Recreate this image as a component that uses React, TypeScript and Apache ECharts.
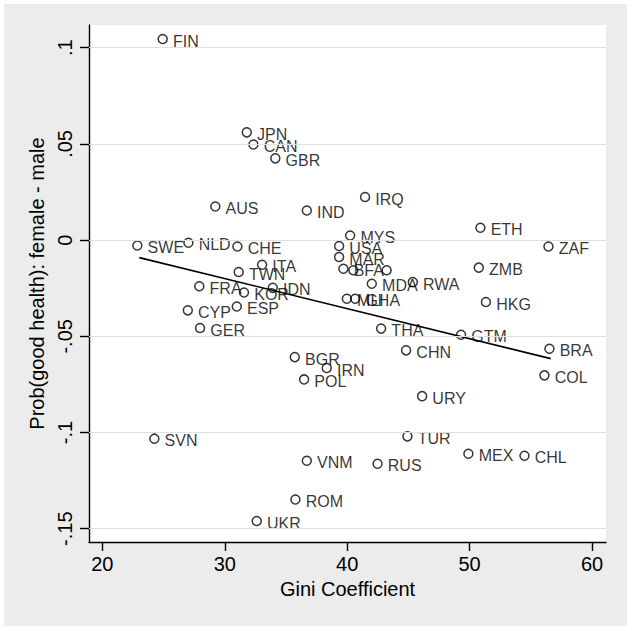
import React, { useEffect, useRef } from "react";
import * as echarts from "echarts";

// Country codes (empty string = unlabeled point)
const countries = [
  "FIN", "JPN", "CAN", "GBR", "AUS", "IND", "IRQ", "ETH", "ZAF", "SWE",
  "NLD", "CHE", "MYS", "USA", "MAR", "BFA", "", "", "MDA", "RWA",
  "ZMB", "ITA", "TWN", "FRA", "KOR", "IDN", "CYP", "ESP", "GER", "MLI",
  "GHA", "HKG", "THA", "GTM", "CHN", "BRA", "COL", "BGR", "IRN", "POL",
  "URY", "SVN", "TUR", "MEX", "CHL", "VNM", "RUS", "ROM", "UKR",
];
// Gini coefficient
const gini = [
  24.93, 31.8, 32.34, 34.13, 29.23, 36.7, 41.46, 50.88, 56.44, 22.86,
  27.03, 31.03, 40.24, 39.34, 39.34, 39.69, 40.5, 43.22, 42.01, 45.36,
  50.75, 33.05, 31.14, 27.92, 31.57, 33.92, 26.98, 30.98, 27.98, 39.97,
  40.65, 51.33, 42.77, 49.3, 44.81, 56.52, 56.11, 35.72, 38.33, 36.48,
  46.12, 24.25, 44.92, 49.9, 54.48, 36.7, 42.48, 35.77, 32.61,
];
// Prob(good health): female - male
const healthGap = [
  0.1045, 0.056, 0.0497, 0.0425, 0.0175, 0.0154, 0.0224, 0.0064, -0.0033, -0.0028,
  -0.0014, -0.0033, 0.0024, -0.0031, -0.0088, -0.0149, -0.0157, -0.0157, -0.0227, -0.0218,
  -0.0143, -0.0128, -0.0166, -0.024, -0.0272, -0.0248, -0.0365, -0.0345, -0.0457, -0.0305,
  -0.0305, -0.0322, -0.046, -0.0492, -0.0573, -0.0565, -0.0703, -0.0608, -0.0665, -0.0724,
  -0.0811, -0.1032, -0.102, -0.111, -0.1121, -0.1147, -0.1162, -0.1348, -0.146,
];
// Fitted line endpoints
const fitX = [23.02, 56.63];
const fitY = [-0.0091, -0.0616];

const xTicks = [20, 30, 40, 50, 60];
const yTicks = [-0.15, -0.1, -0.05, 0, 0.05, 0.1];

const FONT = "'Liberation Sans', Arial, Helvetica, sans-serif";

function fmtY(v: number): string {
  const s = Number(v.toFixed(3)).toString();
  if (s === "0") return "0";
  return s.replace("0.", ".");
}

export default function App() {
  const ref = useRef<HTMLDivElement>(null);
  useEffect(() => {
    document.body.style.margin = "0";
    if (!ref.current) return;
    const chart = echarts.init(ref.current, undefined, { renderer: "svg" });
    chart.setOption({
      animation: false,
      backgroundColor: "#ffffff",
      textStyle: { fontFamily: FONT },
      graphic: [
        {
          type: "rect",
          z: -10,
          silent: true,
          shape: { x: 4, y: 4, width: 623, height: 622 },
          style: { fill: "#ececec" },
        },
      ],
      grid: {
        left: 89,
        top: 25,
        width: 517,
        height: 517,
        show: true,
        backgroundColor: "#ffffff",
        borderWidth: 0,
      },
      xAxis: {
        type: "value",
        min: 18.91,
        max: 61.14,
        name: "Gini Coefficient",
        nameLocation: "middle",
        nameGap: 36,
        nameTextStyle: { fontSize: 20, color: "#000", fontFamily: FONT },
        axisLine: { onZero: false, lineStyle: { color: "#000", width: 1.4 } },
        axisTick: { customValues: xTicks, length: 9, lineStyle: { color: "#000", width: 1.4 } },
        axisLabel: {
          customValues: xTicks,
          fontSize: 20,
          margin: 12,
          color: "#000",
          fontFamily: FONT,
        },
        splitLine: { show: false },
      },
      yAxis: {
        type: "value",
        min: -0.1569,
        max: 0.1118,
        name: "Prob(good health): female - male",
        nameLocation: "middle",
        nameRotate: 90,
        nameGap: 35,
        nameTextStyle: { fontSize: 20, color: "#000", fontFamily: FONT },
        axisLine: { onZero: false, lineStyle: { color: "#000", width: 1.4 } },
        axisTick: { customValues: yTicks, length: 9, lineStyle: { color: "#000", width: 1.4 } },
        axisLabel: {
          customValues: yTicks,
          rotate: 90,
          fontSize: 20,
          margin: 14,
          color: "#000",
          fontFamily: FONT,
          formatter: (v: number) => fmtY(v),
        },
        splitLine: { show: false },
      },
      series: [
        {
          type: "line",
          z: 1,
          data: [],
          markLine: {
            silent: true,
            symbol: "none",
            label: { show: false },
            lineStyle: { color: "#e0e0e0", width: 1, type: "solid" },
            data: yTicks.map((v) => ({ yAxis: v })),
          },
        },
        {
          type: "line",
          z: 3,
          data: fitX.map((x, i) => [x, fitY[i]]),
          symbol: "none",
          lineStyle: { color: "#000", width: 1.6 },
          silent: true,
        },
        {
          type: "scatter",
          z: 4,
          data: countries.map((c, i) => ({ name: c, value: [gini[i], healthGap[i]] })),
          symbol: "circle",
          symbolSize: 9,
          itemStyle: { color: "rgba(0,0,0,0)", borderColor: "#000", borderWidth: 1.5 },
          label: {
            show: true,
            position: "right",
            distance: 5,
            offset: [0, 2],
            formatter: (p: any) => p.name,
            fontSize: 16,
            color: "#000",
            fontFamily: FONT,
          },
          emphasis: { disabled: true },
          silent: true,
        },
      ],
    });
    return () => chart.dispose();
  }, []);
  return <div ref={ref} style={{ width: 632, height: 631 }} />;
}
